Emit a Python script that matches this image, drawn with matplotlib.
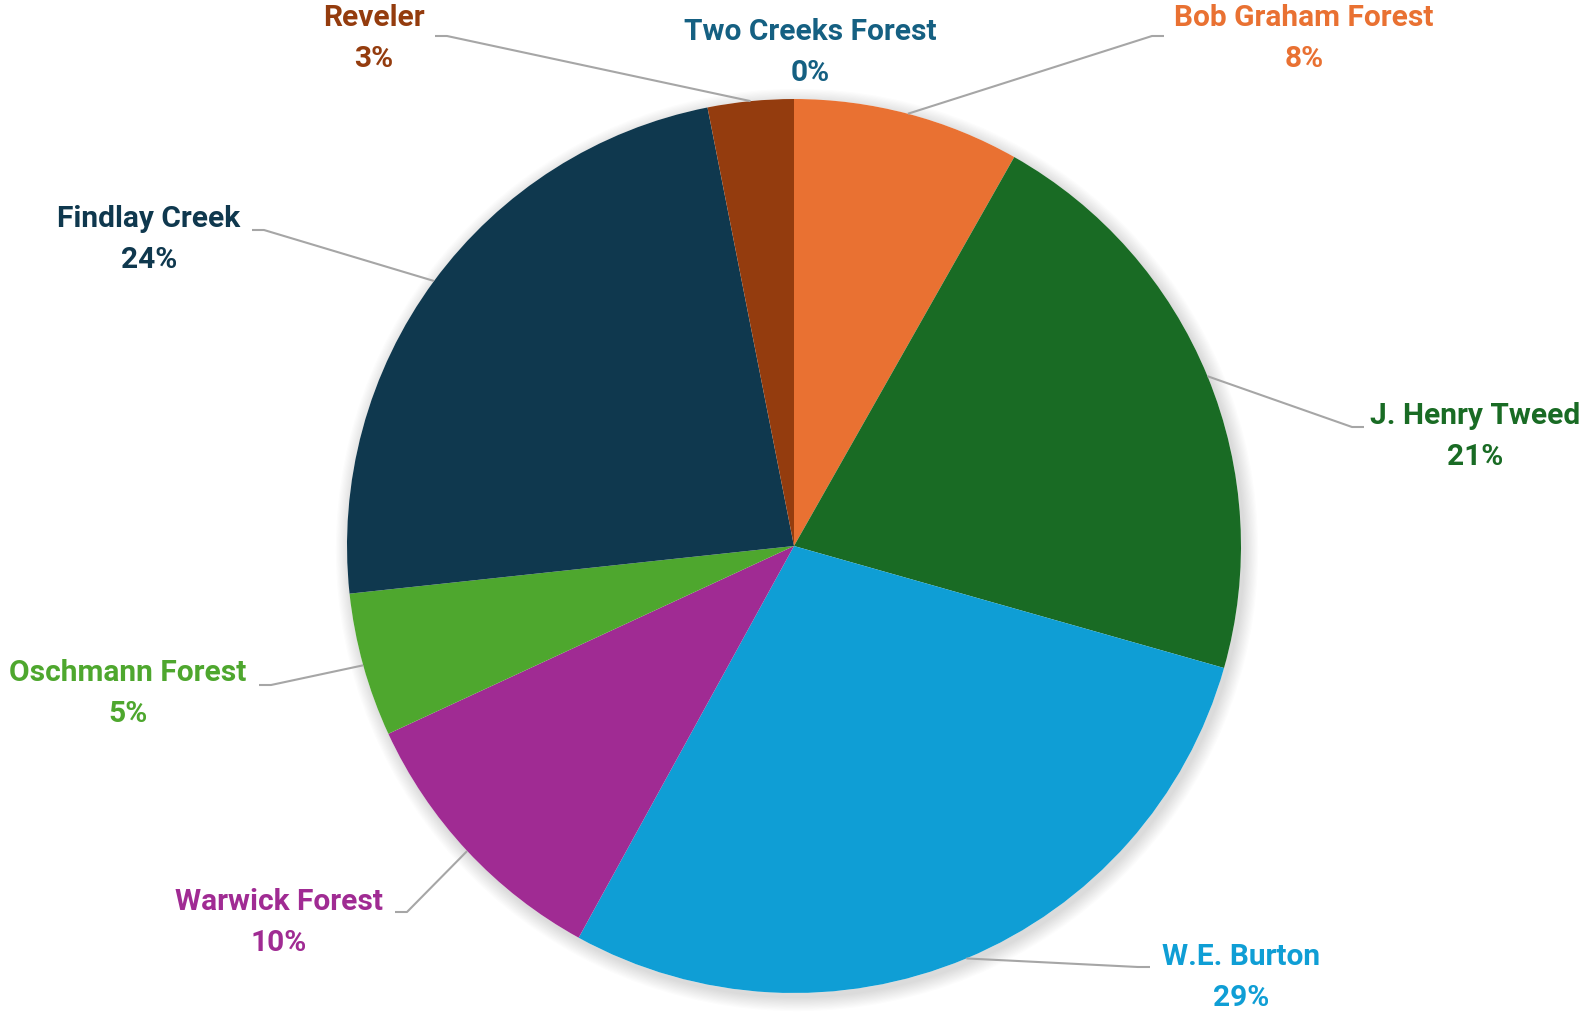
import numpy as np
import matplotlib.pyplot as plt
from matplotlib.patches import Circle

# share of each site, clockwise from 12 o'clock
sites = ["Two Creeks Forest", "Bob Graham Forest", "J. Henry Tweed", "W.E. Burton",
         "Warwick Forest", "Oschmann Forest", "Findlay Creek", "Reveler"]
shares = [0.0, 8.2, 21.2, 28.6, 10.1, 5.2, 23.6, 3.1]
colors = ["#156082", "#E97132", "#196B24", "#0F9ED5",
          "#A02B93", "#4EA72E", "#0F384E", "#943C0E"]

W, H = 1594, 1015
CX, CY, R = 794, 546, 447  # pie centre / radius in pixels (y from top)

# label layout: text centre x, name line y, leader end (x, y) -- pixel coords, y from top
label_pos = {
    "Two Creeks Forest": (810, 32, None),
    "Bob Graham Forest": (1304, 18, (1164, 36)),
    "J. Henry Tweed": (1475, 416, (1364, 427)),
    "W.E. Burton": (1241, 957, (1150, 967)),
    "Warwick Forest": (279, 902, (395, 912)),
    "Oschmann Forest": (128, 673, (259, 685)),
    "Findlay Creek": (149, 219, (252, 230)),
    "Reveler": (374, 18, (435, 36)),
}

plt.rcParams['font.family'] = ['Roboto', 'DejaVu Sans']

fig = plt.figure(figsize=(W / 100, H / 100), dpi=100)
ax = fig.add_axes([0, 0, 1, 1])


def Y(y):
    return H - y


# soft shadow behind the pie
for i in range(12):
    ax.add_patch(Circle((CX + 3, Y(CY) - 4), R + 1 + i * 1.2, color='black',
                        alpha=0.012, lw=0, zorder=0))
ax.add_patch(Circle((CX, Y(CY)), R, color='white', lw=0, zorder=0.5))

wedges, _ = ax.pie(shares, colors=colors, startangle=90, counterclock=False,
                   center=(CX, Y(CY)), radius=R, frame=True,
                   wedgeprops=dict(linewidth=0))
ax.set_xlim(0, W)
ax.set_ylim(0, H)
ax.set_aspect('equal')
ax.axis('off')

total = sum(shares)
start = 0.0
for name, val, col in zip(sites, shares, colors):
    mid = (start + val / 2) / total * 2 * np.pi
    start += val
    tx, ty, end = label_pos[name]
    ax.text(tx, Y(ty), name, color=col, fontsize=21.5, fontweight='bold',
            ha='center', va='center')
    ax.text(tx, Y(ty + 41), f"{val / total * 100:.0f}%", color=col, fontsize=21.5,
            fontweight='bold', ha='center', va='center')
    if end is None:
        continue
    px = CX + R * np.sin(mid)
    py = CY - R * np.cos(mid)
    ex, ey = end
    elbow = ex + 12 if ex < CX else ex - 12
    ax.plot([px, elbow, ex], [Y(py), Y(ey), Y(ey)], color='#A6A6A6', lw=1.5,
            zorder=3, solid_capstyle='butt')

fig.savefig("out.png", dpi=100)
